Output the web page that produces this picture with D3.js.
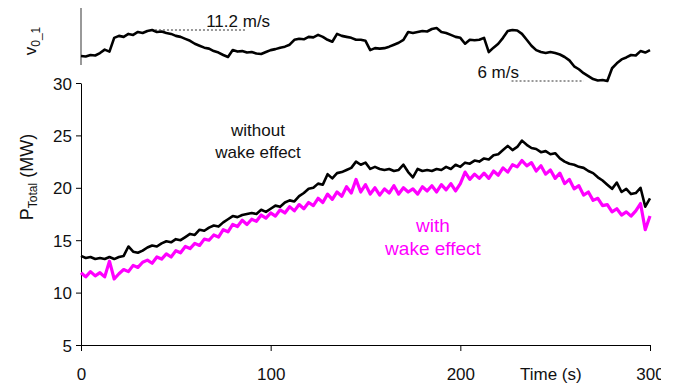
<!DOCTYPE html>
<html>
<head>
<meta charset="utf-8">
<script src="https://d3js.org/d3.v7.min.js"></script>
<style>
  body { margin: 0; background: #fff; }
  svg text { font-family: "Liberation Sans", Arial, sans-serif; }
</style>
</head>
<body>
<script>
// time axis: one sample every 2.5 s, 0 .. 300 s
var timeStep = 2.5;

// total power without wake effect (MW)
var powerNoWake = [
  13.5, 13.3, 13.4, 13.2, 13.3, 13.2, 13.4, 13.2, 13.4, 13.5,
  14.4, 13.9, 13.8, 14.0, 14.3, 14.5, 14.4, 14.7, 14.9, 14.8,
  15.1, 15.0, 15.3, 15.6, 15.5, 16.0, 15.9, 16.2, 16.4, 16.3,
  16.7, 17.0, 17.3, 17.2, 17.4, 17.5, 17.6, 17.5, 17.9, 17.7,
  18.0, 18.3, 18.2, 18.6, 18.8, 18.7, 19.2, 19.5, 19.9, 20.0,
  20.4, 20.3, 21.3, 20.9, 21.4, 21.5, 21.7, 21.9, 22.5, 22.2,
  22.4, 21.8, 22.0, 21.8, 21.7, 21.8, 21.6, 21.7, 22.2, 21.5,
  21.0, 21.8, 21.6, 21.7, 21.6, 21.8, 21.7, 22.0, 21.8, 22.2,
  22.0, 22.4, 22.3, 22.6, 22.5, 22.8, 22.7, 23.1, 23.2, 23.6,
  24.0, 23.6, 23.9, 24.5, 24.1, 23.8, 23.7, 23.4, 23.5, 23.2,
  23.3, 22.8, 22.5, 22.3, 22.2, 22.0, 21.9, 21.6, 21.4, 21.0,
  20.7, 20.3, 19.9, 20.5, 19.6, 19.9, 19.4, 19.5, 20.0, 18.2,
  19.0
];

// total power with wake effect (MW)
var powerWake = [
  11.9, 11.5, 12.0, 11.6, 11.9, 11.5, 13.0, 11.3, 11.8, 12.2,
  12.0, 12.6, 12.4, 12.9, 13.1, 12.8, 13.4, 13.2, 13.7, 13.4,
  14.0, 13.8, 14.4, 14.2, 14.7, 14.5, 15.1, 15.0, 15.5, 15.3,
  16.0, 15.8, 16.5, 16.3, 16.9, 16.5, 17.0, 16.8, 17.4, 17.1,
  17.6, 17.3, 17.9, 17.6, 18.2, 17.8, 18.4, 18.0, 18.6, 18.3,
  19.0, 18.6, 19.4, 18.9, 19.6, 19.2, 20.1, 19.5, 20.8, 19.6,
  20.3, 19.4, 20.0, 19.3, 19.9, 19.5, 20.2, 19.4, 20.0, 19.6,
  19.9, 19.4, 20.1, 19.7, 20.2, 19.6, 20.3, 19.8, 20.4, 19.7,
  20.4, 21.5, 20.8, 21.3, 20.9, 21.4, 20.9, 21.6, 21.2, 21.9,
  21.5, 22.2, 22.0, 22.6, 22.1, 22.4, 21.6, 22.1, 21.3, 21.7,
  20.9, 21.4, 20.4, 20.8, 19.9, 20.2, 19.3, 19.6, 18.8, 19.0,
  18.3, 18.4, 17.7, 18.0, 17.4, 17.7, 17.3, 17.8, 18.5, 16.0,
  17.3
];

// wind speed v0_1 (m/s)
var windSpeed = [
  8.55, 8.5, 8.65, 8.6, 8.85, 9.2, 9.0, 10.4, 10.6, 10.5,
  10.8, 10.7, 11.0, 10.9, 11.1, 11.2, 11.0, 11.05, 10.9, 10.8,
  10.6, 10.5, 10.3, 10.1, 9.8, 9.6, 9.4, 9.3, 9.05, 8.9,
  8.65, 8.45, 9.15, 9.0, 9.05, 8.9, 8.95, 8.8, 8.75, 8.95,
  9.15, 9.25, 9.4, 9.5, 9.7, 10.2, 10.3, 10.25, 10.5, 10.45,
  10.7, 10.5, 10.2, 10.0, 10.8, 10.6, 10.5, 10.4, 10.2, 10.2,
  10.1, 9.15, 9.35, 9.3, 9.35, 9.5, 9.7, 9.9, 10.2, 11.0,
  10.9, 11.0, 11.1, 11.05, 11.3, 11.4, 11.0, 10.9, 10.7, 10.5,
  10.4, 9.8, 10.2, 10.15, 10.2, 10.4, 8.95, 9.4, 9.8, 10.4,
  11.1, 11.2, 11.15, 10.8, 10.2, 9.6, 9.15, 8.95, 8.85, 8.95,
  8.85, 8.7, 8.45, 8.1, 7.5, 7.2, 6.8, 6.5, 6.2, 6.05,
  6.1, 6.0, 7.3, 7.8, 8.2, 8.4, 8.65, 8.6, 9.05, 8.9,
  9.15
];

var powerTicks = [5, 10, 15, 20, 25, 30];
var timeTicks = [0, 100, 200, 300];

// annotations on the wind panel: [value, t start, t end]
var windMarks = [
  { v: 11.2, t0: 39, t1: 87, label: "11.2 m/s", lt: 66 },
  { v: 6, t0: 227, t1: 265, label: "6 m/s", lt: 209 }
];

var W = 690, H = 385;
var svg = d3.select("body").append("svg")
    .attr("width", W)
    .attr("height", H);

svg.append("rect").attr("width", W).attr("height", H).attr("fill", "#fff");

var x = d3.scaleLinear().domain([0, 300]).range([81, 650]);
var y = d3.scaleLinear().domain([5, 30]).range([345, 83]);
var yW = d3.scaleLinear().domain([6, 11.2]).range([81, 30]);

// axes
var yAxis = svg.append("g")
    .attr("transform", "translate(81,0)")
    .call(d3.axisLeft(y).tickValues(powerTicks).tickSize(5).tickSizeOuter(0).tickPadding(4));

svg.append("clipPath").attr("id", "xclip")
    .append("rect").attr("x", 0).attr("y", 0).attr("width", 661).attr("height", H);

var xAxis = svg.append("g")
    .attr("transform", "translate(0,345)")
    .attr("clip-path", "url(#xclip)")
    .call(d3.axisBottom(x).tickValues(timeTicks).tickSize(6).tickSizeOuter(0));

[yAxis, xAxis].forEach(function(a) {
    a.selectAll("text")
        .style("font-family", '"Liberation Sans", Arial, sans-serif')
        .style("font-size", "17px")
        .attr("fill", "#111");
    a.selectAll("line, path").attr("stroke", "#000");
});
xAxis.selectAll("text").attr("dy", 0).attr("y", 35);
yAxis.selectAll("text").attr("dy", "0.36em");

svg.append("text")
    .attr("x", 520).attr("y", 380)
    .style("font-size", "17px")
    .attr("fill", "#111")
    .text("Time (s)");

// y axis title
var yt = svg.append("text")
    .attr("transform", "translate(33,177) rotate(-90)")
    .attr("text-anchor", "middle")
    .style("font-size", "18px")
    .attr("fill", "#111");
yt.append("tspan").text("P");
yt.append("tspan").attr("dy", 4).style("font-size", "12px").text("Total");
yt.append("tspan").attr("dy", -4).text(" (MW)");

// wind panel axis
svg.append("line")
    .attr("x1", 81).attr("x2", 81)
    .attr("y1", 8).attr("y2", 65)
    .attr("stroke", "#777").attr("stroke-width", 1.5);

var vt = svg.append("text")
    .attr("transform", "translate(36,41) rotate(-90)")
    .attr("text-anchor", "middle")
    .style("font-size", "17px")
    .attr("fill", "#111");
vt.append("tspan").text("v");
vt.append("tspan").attr("dy", 4).style("font-size", "12px").text("0_1");

// lines
var lineP = d3.line()
    .x(function(d, i) { return x(i * timeStep); })
    .y(function(d) { return y(d); });
var lineW = d3.line()
    .x(function(d, i) { return x(i * timeStep); })
    .y(function(d) { return yW(d); });

svg.append("path")
    .datum(powerWake)
    .attr("d", lineP)
    .attr("fill", "none")
    .attr("stroke", "#ff00ff")
    .attr("stroke-width", 3.2)
    .attr("stroke-linejoin", "round");

svg.append("path")
    .datum(powerNoWake)
    .attr("d", lineP)
    .attr("fill", "none")
    .attr("stroke", "#000")
    .attr("stroke-width", 2.6)
    .attr("stroke-linejoin", "round");

svg.append("path")
    .datum(windSpeed)
    .attr("d", lineW)
    .attr("fill", "none")
    .attr("stroke", "#000")
    .attr("stroke-width", 2.6)
    .attr("stroke-linejoin", "round");

// dashed reference marks in the wind panel
windMarks.forEach(function(m) {
    svg.append("line")
        .attr("x1", x(m.t0)).attr("x2", x(m.t1))
        .attr("y1", yW(m.v)).attr("y2", yW(m.v))
        .attr("stroke", "#333")
        .attr("stroke-width", 1)
        .attr("stroke-dasharray", "2,2");
    svg.append("text")
        .attr("x", x(m.lt))
        .attr("y", yW(m.v) - 3)
        .style("font-size", "17px")
        .attr("fill", "#111")
        .text(m.label);
});

// series labels
svg.append("text")
    .attr("text-anchor", "middle")
    .attr("fill", "#111")
    .style("font-size", "17px")
    .selectAll("tspan")
    .data(["without", "wake effect"])
    .join("tspan")
    .attr("x", 258)
    .attr("y", function(d, i) { return 136 + i * 22; })
    .text(function(d) { return d; });

svg.append("text")
    .attr("text-anchor", "middle")
    .attr("fill", "#ff00ff")
    .style("font-size", "19px")
    .selectAll("tspan")
    .data(["with", "wake effect"])
    .join("tspan")
    .attr("x", 433)
    .attr("y", function(d, i) { return 232 + i * 23; })
    .text(function(d) { return d; });
</script>
</body>
</html>
